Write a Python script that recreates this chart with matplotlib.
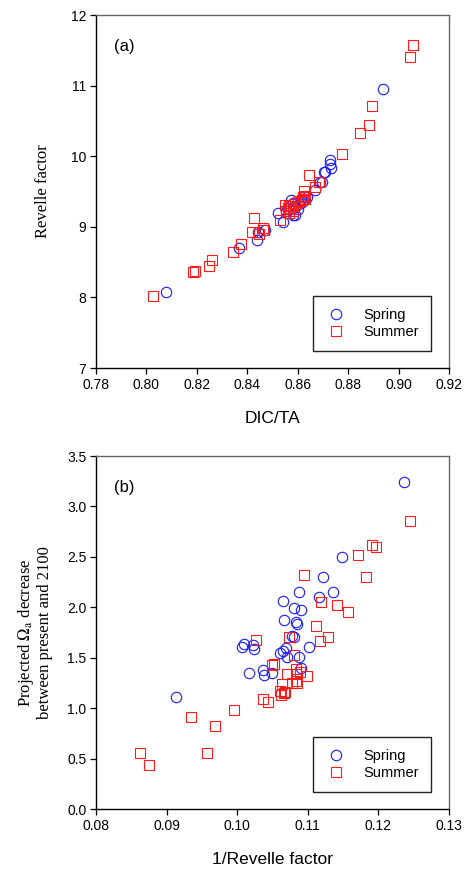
import numpy as np
import matplotlib
matplotlib.use("Agg")
import matplotlib.pyplot as plt

plt.rcParams['font.family'] = 'Liberation Sans'
plt.rcParams['mathtext.fontset'] = 'stix'

# (a) Revelle factor vs DIC/TA
spring_dicta = [0.8078, 0.8366, 0.8437, 0.8441, 0.8472, 0.8522, 0.8540, 0.8573,
                0.8583, 0.8589, 0.8565, 0.8580, 0.8590, 0.8610, 0.8605, 0.8620,
                0.8625, 0.8669, 0.8689, 0.8695, 0.8704, 0.8710, 0.8728, 0.8730,
                0.8732, 0.8940, 0.8555, 0.8600, 0.8615, 0.8635]
spring_rf = [8.08, 8.70, 8.81, 8.92, 8.95, 9.19, 9.07, 9.38,
             9.17, 9.17, 9.30, 9.34, 9.28, 9.35, 9.32, 9.36,
             9.38, 9.52, 9.63, 9.64, 9.77, 9.78, 9.94, 9.89,
             9.83, 10.95, 9.22, 9.25, 9.40, 9.42]

summer_dicta = [0.8027, 0.8186, 0.8193, 0.8250, 0.8259, 0.8345, 0.8375, 0.8419,
                0.8427, 0.8445, 0.8461, 0.8467, 0.8530, 0.8550, 0.8555, 0.8560,
                0.8565, 0.8570, 0.8575, 0.8580, 0.8590, 0.8610, 0.8617, 0.8620,
                0.8625, 0.8630, 0.8645, 0.8669, 0.8683, 0.8777, 0.8847, 0.8883,
                0.8894, 0.9047, 0.9056, 0.8565, 0.8600, 0.8628]
summer_rf = [8.02, 8.36, 8.38, 8.45, 8.53, 8.64, 8.75, 8.92,
             9.12, 8.90, 8.99, 8.95, 9.09, 9.31, 9.22, 9.27,
             9.20, 9.25, 9.29, 9.23, 9.33, 9.35, 9.38, 9.42,
             9.51, 9.44, 9.74, 9.57, 9.63, 10.03, 10.33, 10.44,
             10.71, 11.41, 11.58, 9.30, 9.36, 9.40]

# (b) projected omega decrease vs 1/Revelle factor
spring_inv = [0.1236, 0.1149, 0.1121, 0.1135, 0.1088, 0.1116, 0.1065, 0.1080,
              0.1090, 0.1067, 0.1083, 0.1085, 0.1077, 0.1080, 0.1007, 0.1009,
              0.1023, 0.1024, 0.1069, 0.1061, 0.1065, 0.1070, 0.1102, 0.1088,
              0.1090, 0.1017, 0.1037, 0.1038, 0.1050, 0.0913]
spring_dom = [3.24, 2.50, 2.30, 2.15, 2.15, 2.10, 2.06, 1.99,
              1.97, 1.87, 1.85, 1.83, 1.72, 1.71, 1.61, 1.64,
              1.63, 1.59, 1.60, 1.55, 1.57, 1.51, 1.61, 1.51,
              1.40, 1.35, 1.38, 1.33, 1.35, 1.11]

summer_inv = [0.1245, 0.1191, 0.1196, 0.1171, 0.1182, 0.1095, 0.1119, 0.1142,
              0.1157, 0.1112, 0.1117, 0.1128, 0.1074, 0.1026, 0.1080, 0.1050,
              0.1052, 0.1083, 0.1089, 0.1084, 0.1071, 0.1099, 0.1078, 0.1083,
              0.1085, 0.1064, 0.1060, 0.1062, 0.1067, 0.1068, 0.1037, 0.1044,
              0.0996, 0.0934, 0.0968, 0.0957, 0.0863, 0.0875]
summer_dom = [2.86, 2.62, 2.60, 2.52, 2.30, 2.32, 2.05, 2.02,
              1.95, 1.81, 1.67, 1.71, 1.71, 1.68, 1.53, 1.43,
              1.44, 1.39, 1.36, 1.34, 1.34, 1.32, 1.25, 1.27,
              1.25, 1.24, 1.17, 1.13, 1.15, 1.16, 1.09, 1.06,
              0.98, 0.91, 0.82, 0.56, 0.555, 0.44]


def style_axes(ax):
    for side in ['left', 'bottom']:
        ax.spines[side].set_color('black')
        ax.spines[side].set_linewidth(1.0)
    for side in ['top', 'right']:
        ax.spines[side].set_color('#666666')
        ax.spines[side].set_linewidth(1.0)
    ax.tick_params(direction='out', length=4, width=0.9, labelsize=10,
                   top=False, right=False, pad=3)


def add_points(ax, xs, ys, xr, yr):
    ax.plot(xs, ys, 'o', ms=7.5, mfc='none', mec='#1a1aff', mew=0.8,
            label='Spring')
    ax.plot(xr, yr, 's', ms=7, mfc='none', mec='#ff1a1a', mew=0.8,
            label='Summer')
    leg = ax.legend(loc='lower right', bbox_to_anchor=(0.949, 0.048),
                    fancybox=False, framealpha=1, edgecolor='#222222',
                    fontsize=10.5, borderpad=0.8, handletextpad=1.1,
                    labelspacing=0.25, borderaxespad=0, handlelength=1.6)
    leg.get_frame().set_linewidth(1.0)


fig = plt.figure(figsize=(4.66, 8.69), dpi=100)

ax1 = fig.add_axes([0.206, 0.5765, 0.7575, 0.4062])
add_points(ax1, spring_dicta, spring_rf, summer_dicta, summer_rf)
ax1.set_xlim(0.78, 0.92)
ax1.set_ylim(7, 12)
ax1.set_xticks(np.arange(0.78, 0.9201, 0.02))
ax1.set_yticks(np.arange(7, 12.01, 1))
ax1.xaxis.set_major_formatter(matplotlib.ticker.FormatStrFormatter('%.2f'))
ax1.set_xlabel('DIC/TA', fontsize=12.5, labelpad=14)
ax1.set_ylabel('Revelle factor', fontsize=12, family='Liberation Serif',
               labelpad=14)
ax1.text(0.05, 0.91, '(a)', transform=ax1.transAxes, fontsize=12,
         va='center', ha='left')
style_axes(ax1)

ax2 = fig.add_axes([0.206, 0.0690, 0.7575, 0.4062])
add_points(ax2, spring_inv, spring_dom, summer_inv, summer_dom)
ax2.set_xlim(0.08, 0.13)
ax2.set_ylim(0, 3.5)
ax2.set_xticks(np.arange(0.08, 0.1301, 0.01))
ax2.set_yticks(np.arange(0, 3.51, 0.5))
ax2.xaxis.set_major_formatter(matplotlib.ticker.FormatStrFormatter('%.2f'))
ax2.yaxis.set_major_formatter(matplotlib.ticker.FormatStrFormatter('%.1f'))
ax2.set_xlabel('1/Revelle factor', fontsize=12.5, labelpad=14)
ax2.set_ylabel('Projected $\\Omega_\\mathrm{a}$ decrease\n'
               'between present and 2100', fontsize=12,
               family='Liberation Serif', labelpad=10, linespacing=1.05)
ax2.text(0.05, 0.91, '(b)', transform=ax2.transAxes, fontsize=12,
         va='center', ha='left')
style_axes(ax2)

fig.savefig('out.png', dpi=100)
